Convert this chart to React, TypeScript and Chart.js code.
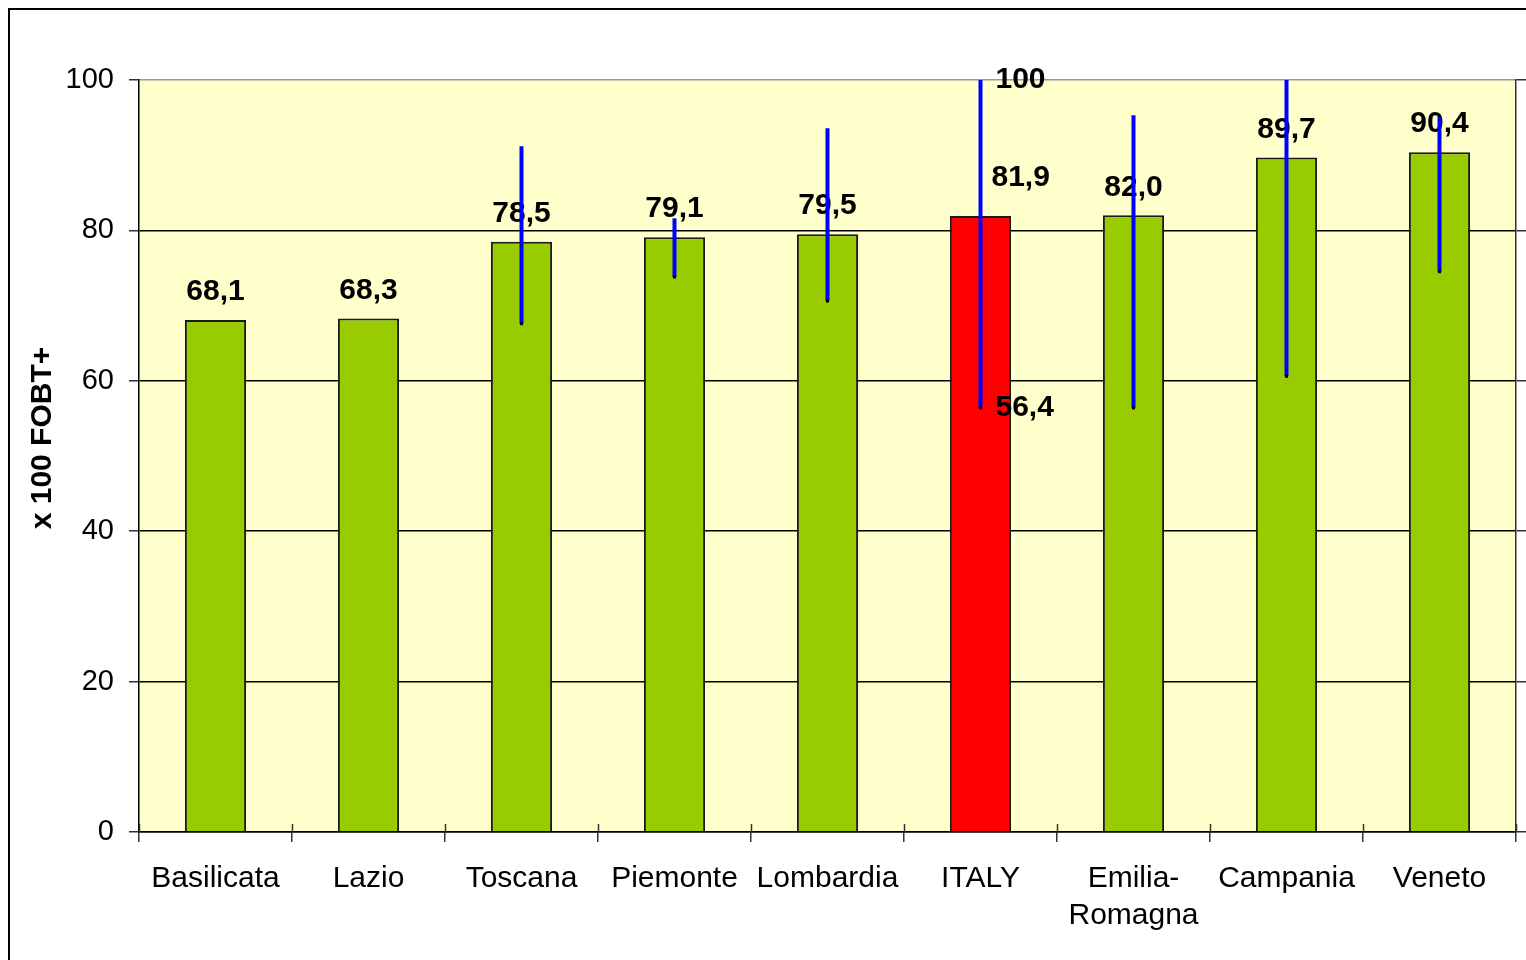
import React, { useEffect, useRef } from "react";
import { Chart, registerables } from "chart.js";

Chart.register(...registerables);

const categories: (string | string[])[] = [
  "Basilicata",
  "Lazio",
  "Toscana",
  "Piemonte",
  "Lombardia",
  "ITALY",
  ["Emilia-", "Romagna"],
  "Campania",
  "Veneto",
];
const values = [68.1, 68.3, 78.5, 79.1, 79.5, 81.9, 82.0, 89.7, 90.4];
const ciLow: (number | null)[] = [null, null, 67.6, 73.8, 70.6, 56.4, 56.4, 60.6, 74.5];
const ciHigh: (number | null)[] = [null, null, 91.2, 81.6, 93.6, 100, 95.3, 100, 95.1];
const highlightIndex = 5; // ITALY
const yTitle = "x 100 FOBT+";

const FONT = "'Liberation Sans', Arial, sans-serif";
const fmt = (v: number) => (Number.isInteger(v) && v >= 100 ? String(v) : v.toFixed(1).replace(".", ","));

const bgPlugin = {
  id: "plotBg",
  beforeDraw(chart: any) {
    const { ctx, chartArea } = chart;
    ctx.save();
    ctx.fillStyle = "#FFFFCC";
    ctx.fillRect(chartArea.left, chartArea.top, chartArea.right - chartArea.left, chartArea.bottom - chartArea.top);
    ctx.restore();
  },
};

const overlayPlugin = {
  id: "overlay",
  afterDraw(chart: any) {
    const { ctx, chartArea } = chart;
    const xs = chart.scales.x;
    const ys = chart.scales.y;
    const n = values.length;
    const step = xs.getPixelForValue(1) - xs.getPixelForValue(0);
    ctx.save();
    // y axis title
    ctx.save();
    ctx.fillStyle = "#000";
    ctx.font = `bold 30px ${FONT}`;
    ctx.textAlign = "center";
    ctx.textBaseline = "middle";
    ctx.translate(43, (chartArea.top + chartArea.bottom) / 2 - 18);
    ctx.rotate(-Math.PI / 2);
    ctx.fillText(yTitle, 0, 0);
    ctx.restore();
    // inner part of crossing category ticks
    ctx.strokeStyle = "#333";
    ctx.lineWidth = 1.5;
    for (let i = 0; i <= n; i++) {
      const x = Math.round(xs.getPixelForValue(i) - step / 2) + 0.5;
      ctx.beginPath();
      ctx.moveTo(x, chartArea.bottom - 8);
      ctx.lineTo(x, chartArea.bottom);
      ctx.stroke();
    }
    // value labels
    ctx.fillStyle = "#000";
    ctx.font = `bold 30px ${FONT}`;
    ctx.textBaseline = "middle";
    for (let i = 0; i < n; i++) {
      const x = xs.getPixelForValue(i);
      const top = ys.getPixelForValue(values[i]);
      if (i === highlightIndex) {
        ctx.textAlign = "left";
        ctx.fillText(fmt(values[i]), x + 11, top - 38);
        if (ciHigh[i] != null) ctx.fillText(fmt(ciHigh[i] as number), x + 15, ys.getPixelForValue(ciHigh[i]));
        if (ciLow[i] != null) ctx.fillText(fmt(ciLow[i] as number), x + 15, ys.getPixelForValue(ciLow[i]));
      } else {
        ctx.textAlign = "center";
        ctx.fillText(fmt(values[i]), x, top - 28);
      }
    }
    // confidence interval lines
    for (let i = 0; i < n; i++) {
      const lo = ciLow[i];
      const hi = ciHigh[i];
      if (lo == null || hi == null) continue;
      const x = xs.getPixelForValue(i);
      const y1 = ys.getPixelForValue(hi);
      const y2 = ys.getPixelForValue(lo);
      ctx.strokeStyle = "#0000FF";
      ctx.lineWidth = 4;
      ctx.lineCap = "butt";
      ctx.beginPath();
      ctx.moveTo(x, y1);
      ctx.lineTo(x, y2);
      ctx.stroke();
      ctx.fillStyle = "#000";
      ctx.fillRect(x - 1.5, y2 - 1.5, 3, 3);
    }
    ctx.restore();
  },
};

export default function App() {
  const ref = useRef<HTMLCanvasElement | null>(null);
  useEffect(() => {
    if (!ref.current) return;
    const chart = new Chart(ref.current, {
      type: "bar",
      data: {
        labels: categories as any,
        datasets: [
          {
            data: values,
            backgroundColor: values.map((_, i) => (i === highlightIndex ? "#FF0000" : "#99CC00")),
            borderColor: "#1a1a1a",
            borderWidth: 2,
            barPercentage: 0.4,
            categoryPercentage: 1,
          },
        ],
      },
      options: {
        animation: false,
        responsive: false,
        maintainAspectRatio: false,
        layout: { padding: { left: 0, right: 0, top: 80, bottom: 0 } },
        plugins: { legend: { display: false }, tooltip: { enabled: false } },
        scales: {
          x: {
            offset: true,
            grid: {
              offset: true,
              drawOnChartArea: false,
              tickLength: 10,
              color: "#333",
              lineWidth: 1.5,
            },
            border: { color: "#000", width: 1.5 },
            ticks: {
              color: "#000",
              font: { family: FONT, size: 30, lineHeight: 1.233 },
              padding: 18,
              maxRotation: 0,
              autoSkip: false,
            },
            afterFit(scale: any) {
              scale.height = 128;
            },
          },
          y: {
            min: 0,
            max: 100,
            ticks: {
              stepSize: 20,
              color: "#000",
              font: { family: FONT, size: 29 },
              padding: 15,
            },
            grid: {
              color: (c: any) => (c.tick && c.tick.value === 100 ? "#999999" : "#000000"),
              tickColor: "#333",
              lineWidth: 1.5,
              tickLength: 10,
            },
            border: { color: "#000", width: 1.5 },
            title: { display: false, text: yTitle },
            afterFit(scale: any) {
              scale.width = 139;
            },
          },
          y2: {
            position: "right",
            min: 0,
            max: 100,
            ticks: { display: false, stepSize: 20 },
            grid: { drawOnChartArea: false, tickLength: 10, color: "#333", lineWidth: 1.5 },
            border: { color: "#333", width: 1.5 },
            afterFit(scale: any) {
              scale.width = 10;
            },
          },
        },
      },
      plugins: [bgPlugin, overlayPlugin],
    });
    return () => chart.destroy();
  }, []);

  return (
    <div style={{ position: "absolute", left: 0, top: 0, width: 1526, height: 960, overflow: "hidden", background: "#fff" }}>
      <div
        style={{
          position: "absolute",
          left: 8,
          top: 8,
          width: 1600,
          height: 1100,
          border: "2px solid #000",
        }}
      />
      <canvas ref={ref} width={1526} height={960} style={{ position: "absolute", left: 0, top: 0, width: 1526, height: 960 }} />
    </div>
  );
}
